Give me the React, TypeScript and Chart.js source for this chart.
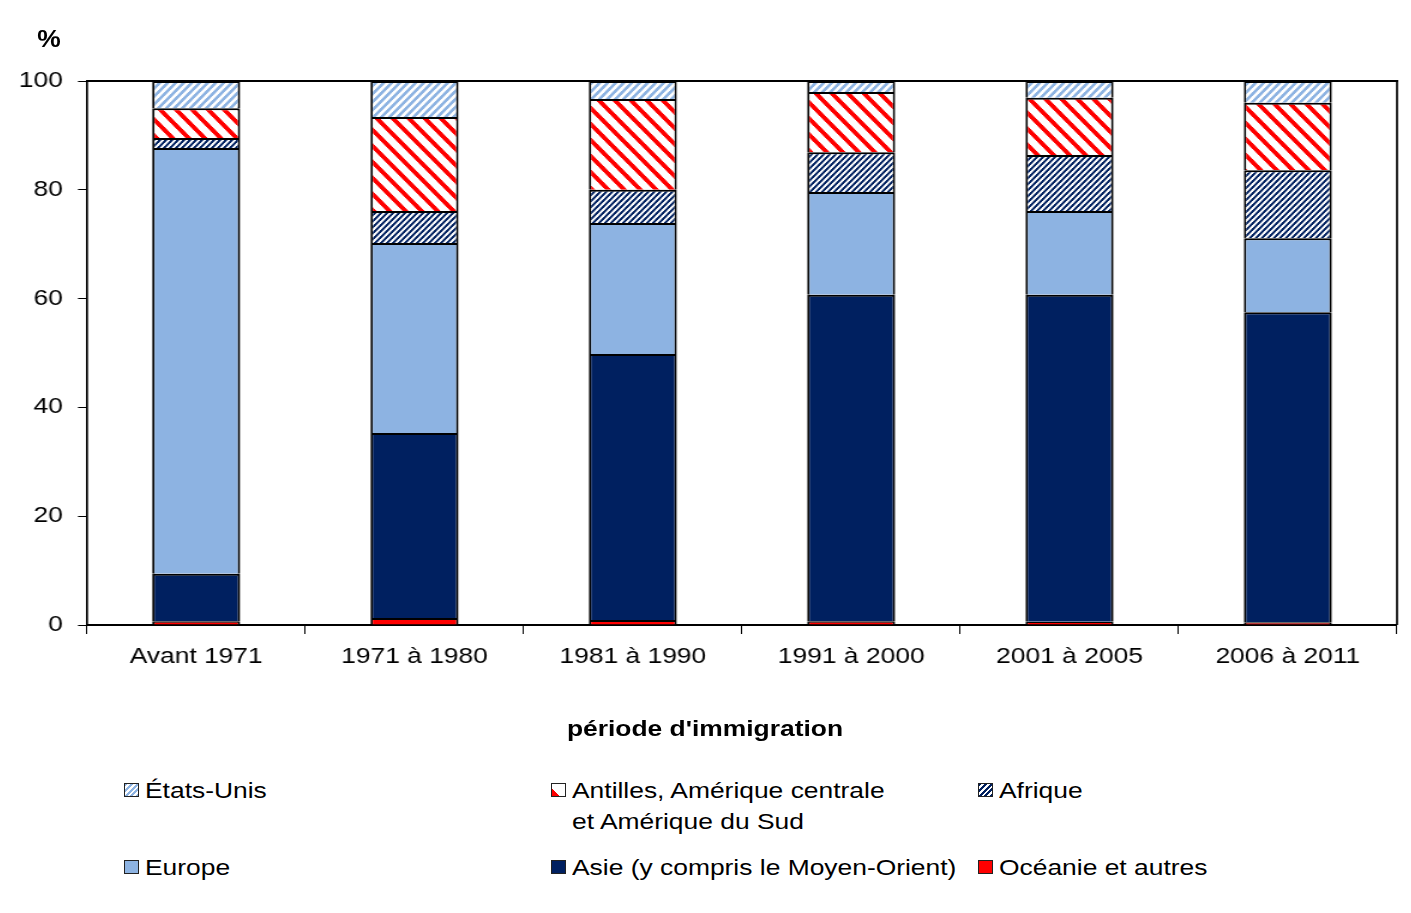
import React, { useEffect, useRef } from 'react';
import { Chart, registerables } from 'chart.js';

Chart.register(...registerables);

// ---------- data ----------
const categories = ['Avant 1971', '1971 à 1980', '1981 à 1990', '1991 à 2000', '2001 à 2005', '2006 à 2011'];
const oceanie = [0.7, 1.3, 0.9, 0.7, 0.6, 0.5];
const asie = [8.7, 34.0, 48.9, 60.0, 60.1, 57.0];
const europe = [78.3, 34.9, 24.1, 18.9, 15.4, 13.6];
const afrique = [1.8, 5.9, 6.1, 7.3, 10.3, 12.5];
const antilles = [5.5, 17.3, 16.7, 11.1, 10.5, 12.4];
const etatsUnis = [5.0, 6.6, 3.3, 2.0, 3.1, 4.0];
const yTicks = [0, 20, 40, 60, 80, 100];
const seriesNames = [
  'Océanie et autres',
  'Asie (y compris le Moyen-Orient)',
  'Europe',
  'Afrique',
  'Antilles, Amérique centrale\net Amérique du Sud',
  'États-Unis',
];
const xTitle = "période d'immigration";
const yTitle = '%';

// ---------- style ----------
const FONT = '"Liberation Sans", Arial, sans-serif';
const NAVY = '#002060';
const LIGHT = '#8DB3E2';
const RED = '#FF0000';
const CSS_W = 1395;
const CW = 1163;
const CH = 760;
const SX = CSS_W / CW;

function makePattern(ctx: CanvasRenderingContext2D, color: string, period: number, width: number, dir: number) {
  const c = document.createElement('canvas');
  c.width = period;
  c.height = period;
  const g = c.getContext('2d')!;
  g.fillStyle = '#ffffff';
  g.fillRect(0, 0, period, period);
  g.fillStyle = color;
  for (let y = 0; y < period; y++) {
    for (let x = 0; x < period; x++) {
      const u = dir > 0 ? (x + y) % period : (((x - y) % period) + period) % period;
      if (u < width) g.fillRect(x, y, 1, 1);
    }
  }
  const pat = ctx.createPattern(c, 'repeat')!;
  try {
    pat.setTransform(new DOMMatrix([1 / SX, 0, 0, 1, 0, 0]));
  } catch (e) {}
  return pat;
}

const plotBorder = {
  id: 'plotBorder',
  afterDraw(chart: any) {
    const { ctx, chartArea: a } = chart;
    ctx.save();
    ctx.strokeStyle = '#000';
    ctx.lineWidth = 2;
    ctx.beginPath();
    ctx.moveTo(a.left, a.top);
    ctx.lineTo(a.right + 1, a.top);
    ctx.stroke();
    ctx.lineWidth = 1.7;
    ctx.beginPath();
    ctx.moveTo(a.right, a.top);
    ctx.lineTo(a.right, a.bottom);
    ctx.stroke();
    ctx.restore();
  },
};

const swatchCss = [
  { background: RED },
  { background: NAVY },
  { background: LIGHT },
  { background: `repeating-linear-gradient(135deg, ${NAVY} 0 2px, #fff 2px 4px)` },
  { background: `linear-gradient(45deg, ${RED} 0 32%, #fff 32% 100%)` },
  { background: `repeating-linear-gradient(135deg, ${LIGHT} 0 2px, #fff 2px 4px)` },
];
// legend grid: [series index, column, row]
const legendLayout = [
  [5, 0, 0],
  [4, 1, 0],
  [3, 2, 0],
  [2, 0, 1],
  [1, 1, 1],
  [0, 2, 1],
];
const legendCols = [116, 543, 970];
const legendRows = [782, 859];

function Text(props: { x: number; cy: number; text: string; size: number; bold?: boolean; center?: boolean; sx?: number; lh?: number }) {
  const lh = props.lh ?? 31;
  const sx = props.sx ?? 1.2;
  return (
    <div
      style={{
        position: 'absolute',
        left: props.x,
        top: props.cy - lh / 2,
        lineHeight: `${lh}px`,
        fontSize: props.size,
        fontWeight: props.bold ? 'bold' : 'normal',
        whiteSpace: 'pre',
        color: '#000',
        transform: props.center ? `translateX(-50%) scaleX(${sx})` : `scaleX(${sx})`,
        transformOrigin: props.center ? 'center center' : 'left center',
      }}
    >
      {props.text}
    </div>
  );
}

export default function App() {
  const ref = useRef<HTMLCanvasElement>(null);

  useEffect(() => {
    const canvas = ref.current!;
    const ctx = canvas.getContext('2d')!;
    const fills = [
      RED,
      NAVY,
      LIGHT,
      makePattern(ctx, NAVY, 6, 3, 1),
      makePattern(ctx, RED, 16, 6, -1),
      makePattern(ctx, LIGHT, 8, 4, 1),
    ];
    const values = [oceanie, asie, europe, afrique, antilles, etatsUnis];
    const chart = new Chart(canvas, {
      type: 'bar',
      data: {
        labels: categories,
        datasets: values.map((v, i) => ({
          label: seriesNames[i],
          data: v,
          backgroundColor: fills[i] as any,
          borderColor: '#000',
          borderWidth: 2,
          borderSkipped: 'start' as any,
          barPercentage: 0.403,
          categoryPercentage: 1,
        })),
      },
      plugins: [plotBorder],
      options: {
        responsive: false,
        animation: false,
        devicePixelRatio: 1,
        layout: { padding: { left: 0, top: 73, right: CW - 1389 / SX, bottom: 0 } },
        plugins: { legend: { display: false }, tooltip: { enabled: false }, title: { display: false } },
        scales: {
          x: {
            stacked: true,
            offset: true,
            border: { display: true, color: '#000', width: 2 },
            grid: { offset: true, drawOnChartArea: false, drawTicks: true, tickLength: 9, color: '#000', lineWidth: 1 },
            ticks: { color: '#000', font: { family: FONT, size: 22 }, padding: 10, maxRotation: 0, autoSkip: false },
            afterFit: (s: any) => {
              s.height = CH - 617;
            },
          },
          y: {
            stacked: true,
            min: 0,
            max: 100,
            border: { display: true, color: '#000', width: 1.7 },
            grid: { drawOnChartArea: false, drawTicks: true, tickLength: 9 / SX, color: '#000', lineWidth: 1 },
            ticks: { color: '#000', font: { family: FONT, size: 22 }, padding: 12.6, stepSize: 20 },
            afterBuildTicks: (s: any) => {
              s.ticks = yTicks.map((v) => ({ value: v }));
            },
            afterFit: (s: any) => {
              s.width = 79 / SX;
            },
          },
        },
      },
    });
    return () => chart.destroy();
  }, []);

  return (
    <div style={{ position: 'relative', width: 1395, height: 903, fontFamily: FONT }}>
      <div
        style={{
          position: 'absolute',
          left: -1,
          top: -1,
          width: 1397,
          height: 905,
          border: '1px solid #8c8c8c',
          boxSizing: 'border-box',
        }}
      />
      <canvas
        ref={ref}
        width={CW}
        height={CH}
        style={{ position: 'absolute', left: 0, top: 0, width: CSS_W, height: CH }}
      />
      <Text x={41} cy={30} text={yTitle} size={24} bold center sx={1.1} />
      <Text x={697} cy={720} text={xTitle} size={22} bold center />
      {legendLayout.map(([si, col, row]) => (
        <React.Fragment key={si}>
          <div
            style={{
              position: 'absolute',
              left: legendCols[col],
              top: legendRows[row] - 7,
              width: 15,
              height: 14,
              boxSizing: 'border-box',
              border: '1px solid #222',
              ...swatchCss[si],
            }}
          />
          <Text x={legendCols[col] + 21} cy={legendRows[row]} text={seriesNames[si]} size={22} />
        </React.Fragment>
      ))}
    </div>
  );
}
